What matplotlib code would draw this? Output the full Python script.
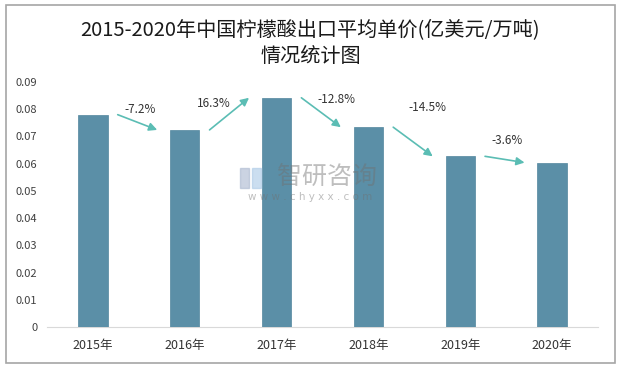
import matplotlib
matplotlib.use('Agg')
import matplotlib.pyplot as plt
from matplotlib.patches import Rectangle

plt.rcParams['font.family'] = ['Noto Sans CJK SC', 'DejaVu Sans']

years = ['2015年', '2016年', '2017年', '2018年', '2019年', '2020年']
prices = [0.0780, 0.0724, 0.0842, 0.0734, 0.0627, 0.0604]
growth = ['-7.2%', '16.3%', '-12.8%', '-14.5%', '-3.6%']
yticks = [0, 0.01, 0.02, 0.03, 0.04, 0.05, 0.06, 0.07, 0.08, 0.09]

# where the growth labels sit (x offset from gap centre, y in data units)
label_dx = [0.01, -0.18, 0.15, 0.14, 0.01]
label_y = [0.0798, 0.0820, 0.0835, 0.0805, 0.0684]

bar_color = '#5B8FA7'
arrow_color = '#5BBDB4'

fig = plt.figure(figsize=(6.21, 3.70), dpi=100)
fig.patches.append(Rectangle((6 / 621, 7 / 370), 609 / 621, 358 / 370,
                             transform=fig.transFigure, fill=False,
                             edgecolor='#A6A6A6', linewidth=1.2))

ax = fig.add_axes([47 / 621, 43 / 370, 551 / 621, 245 / 370])
x = list(range(len(years)))
ax.bar(x, prices, width=0.32, color=bar_color, edgecolor='#52869E',
       linewidth=0.5, zorder=3)

for i in range(len(growth)):
    ax.annotate('', xy=(i + 0.70, prices[i + 1]), xytext=(i + 0.27, prices[i]),
                arrowprops=dict(arrowstyle='-|>', color=arrow_color, lw=1.2,
                                mutation_scale=12, shrinkA=0, shrinkB=0),
                zorder=4)
    ax.text(i + 0.5 + label_dx[i], label_y[i], growth[i], ha='center',
            va='center', fontsize=8.5, color='#333333')

ax.set_xlim(-0.5, 5.5)
ax.set_ylim(0, 0.09)
ax.set_yticks(yticks)
ax.set_yticklabels(['0'] + ['%.2f' % t for t in yticks[1:]])
ax.set_xticks(x)
ax.set_xticklabels(years)
ax.tick_params(axis='y', length=0, pad=7, labelsize=8, labelcolor='#404040')
ax.tick_params(axis='x', length=0, pad=9, labelsize=9, labelcolor='#333333')
for s in ['top', 'right', 'left']:
    ax.spines[s].set_visible(False)
ax.spines['bottom'].set_color('#D9D9D9')

fig.text(0.5, 1 - 30 / 370, '2015-2020年中国柠檬酸出口平均单价(亿美元/万吨)',
         ha='center', va='center', fontsize=14.5, color='#1A1A1A')
fig.text(0.5, 1 - 57 / 370, '情况统计图',
         ha='center', va='center', fontsize=14.5, color='#1A1A1A')

# watermark
fig.text(327 / 621, 1 - 177 / 370, '智研咨询', ha='center', va='center',
         fontsize=18, color='#707070', alpha=0.45)
fig.text(310 / 621, 1 - 197 / 370, 'w w w . c h y x x . c o m', ha='center',
         va='center', fontsize=7.5, color='#707070', alpha=0.45,
         family=['DejaVu Sans'])
fig.patches.append(Rectangle((240 / 621, 1 - 188 / 370), 9 / 621, 20 / 370,
                             transform=fig.transFigure, color='#A9B7CF',
                             alpha=0.6))
fig.patches.append(Rectangle((252 / 621, 1 - 188 / 370), 9 / 621, 20 / 370,
                             transform=fig.transFigure, color='#A9C9E6',
                             alpha=0.6))

fig.savefig('out.png', dpi=100)
